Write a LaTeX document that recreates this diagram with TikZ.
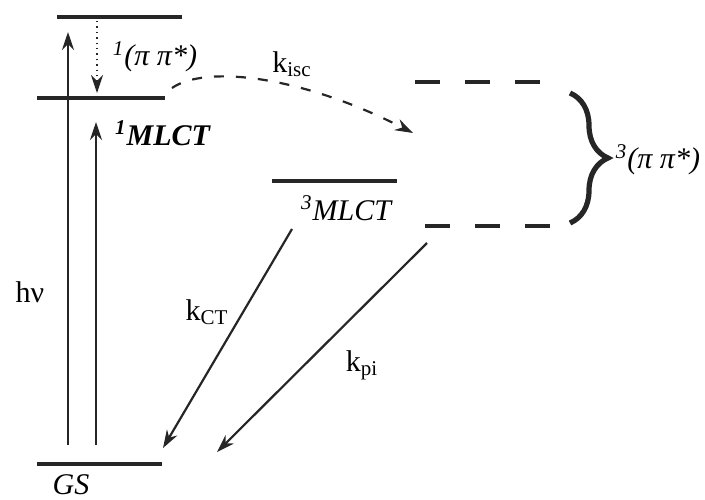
\documentclass[tikz,border=0pt]{standalone}
\usepackage{fontspec}
\setmainfont{Liberation Serif}
\usepackage{tikz}
\usetikzlibrary{arrows.meta, decorations.pathreplacing}

\begin{document}
\begin{tikzpicture}[x=0.5pt, y=-0.5pt, font=\fontsize{15}{18}\selectfont,
  level/.style={line width=2.2pt, black!85},
  trip/.style={level, dash pattern=on 12.5pt off 12.5pt},
  rate/.style={line width=1.1pt, black!85, -{Stealth[length=9pt, width=6pt]}},
  lab/.style={inner sep=0pt}]
\useasboundingbox (0,0) rectangle (705,499);

% ---- energy levels -------------------------------------------------------
\draw[level] (57,17) -- (182,17);
\draw[level] (37,98) -- (165,98);
\draw[level] (272,181) -- (397,181);
\draw[level] (37,464) -- (162,464);
\draw[trip] (415,82) -- (540,82);
\draw[trip] (425,226) -- (550,226);

% ---- end points ----------------------------------------------------------
\coordinate (absA0) at (68,445);  \coordinate (absA1) at (68,32);
\coordinate (absB0) at (96,445);  \coordinate (absB1) at (96,122);
\coordinate (icA0)  at (97,21);   \coordinate (icA1)  at (97,93);
\coordinate (isc0)  at (172,88);  \coordinate (isc1)  at (413,133);
\coordinate (ct0)   at (292,229); \coordinate (ct1)   at (163,448);
\coordinate (pi0)   at (427,243); \coordinate (pi1)   at (217,452);

% ---- transitions ---------------------------------------------------------
\draw[rate] (absA0) -- (absA1);
\draw[rate] (absB0) -- (absB1);
\draw[rate, line width=0.7pt, dotted] (icA0) -- (icA1);
\draw[rate, dash pattern=on 5pt off 6pt] (isc0)
  .. controls (205,65) and (300,75) .. (isc1);
\draw[rate] (ct0) -- (ct1);
\draw[rate] (pi0) -- (pi1);

% ---- brace round the triplet ---------------------------------------------
\draw[line width=2.6pt, black!85, decorate,
  decoration={brace, amplitude=19pt}] (570,93) -- (570,223);

% ---- labels --------------------------------------------------------------
\node[lab] (lpp1) at (155,57) {\textit{\textsuperscript{1}(π π*)}};
\node[lab] (lisc) at (292,64) {k\textsubscript{isc}};
\node[lab] (lml1) at (163,133) {\textbf{\textit{\textsuperscript{1}MLCT}}};
\node[lab] (lml3) at (347,208) {\textit{\textsuperscript{3}MLCT}};
\node[lab] (lpp3) at (658,160) {\textit{\textsuperscript{3}(π π*)}};
\node[lab] (lhv)  at (30,292) {hν};
\node[lab] (lct)  at (207,312) {k\textsubscript{CT}};
\node[lab] (lpi)  at (362,365) {k\textsubscript{pi}};
\node[lab] (lgs)  at (71,485) {\textit{GS}};
\end{tikzpicture}
\end{document}
